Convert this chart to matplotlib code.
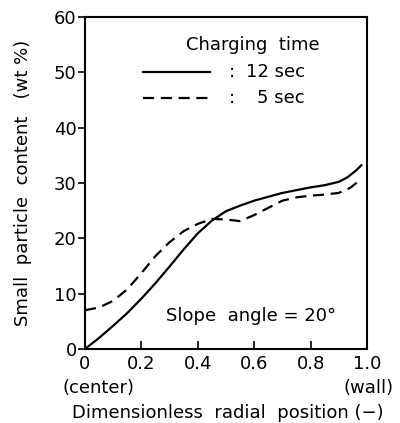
import matplotlib
matplotlib.use('Agg')
import matplotlib.pyplot as plt

# values
x_12s = [0, 0.05, 0.10, 0.15, 0.20, 0.25, 0.30, 0.35, 0.40, 0.45, 0.50,
         0.55, 0.60, 0.65, 0.70, 0.75, 0.80, 0.85, 0.90, 0.93, 0.96, 0.98]
y_12s = [0, 2.0, 4.2, 6.5, 9.1, 11.9, 14.9, 18.0, 20.9, 23.2, 24.9,
         25.9, 26.8, 27.5, 28.2, 28.7, 29.2, 29.6, 30.2, 31.0, 32.2, 33.2]

x_5s = [0, 0.05, 0.10, 0.15, 0.20, 0.25, 0.30, 0.35, 0.40, 0.45, 0.50,
        0.55, 0.60, 0.65, 0.70, 0.75, 0.80, 0.85, 0.90, 0.94, 0.965]
y_5s = [7.0, 7.5, 8.7, 10.8, 13.7, 16.8, 19.3, 21.3, 22.6, 23.5, 23.4,
        23.1, 24.2, 25.5, 26.8, 27.4, 27.7, 27.9, 28.2, 29.1, 30.1]

xticks = [0, 0.2, 0.4, 0.6, 0.8, 1.0]
xtick_labels = ["0", "0.2", "0.4", "0.6", "0.8", "1.0"]
yticks = [0, 10, 20, 30, 40, 50, 60]

plt.rcParams['font.family'] = 'DejaVu Sans'
fs = 13

fig = plt.figure(figsize=(4.0, 4.23), dpi=100)
ax = fig.add_axes([0.2125, 0.175, 0.705, 0.785])

ax.plot(x_12s, y_12s, color='black', lw=1.6, solid_joinstyle='round')
ax.plot(x_5s, y_5s, color='black', lw=1.6, dashes=(5, 3))

ax.set_xlim(0, 1.0)
ax.set_ylim(0, 60)
ax.set_xticks(xticks)
ax.set_xticklabels(xtick_labels)
ax.set_yticks(yticks)

for s in ax.spines.values():
    s.set_linewidth(1.5)

ax.tick_params(axis='x', direction='in', length=6, width=1.2, pad=4, labelsize=fs)
ax.tick_params(axis='y', direction='out', length=5, width=1.2, pad=1, labelsize=fs)

ax.set_ylabel("Small  particle  content   (wt %)", fontsize=fs, labelpad=16)

# legend drawn as text + lines like the original figure
ax.text(0.595, 0.915, "Charging  time", transform=ax.transAxes,
        ha='center', va='center', fontsize=fs)
ax.plot([0.206, 0.443], [0.834, 0.834], transform=ax.transAxes,
        color='black', lw=1.6)
ax.plot([0.206, 0.443], [0.756, 0.756], transform=ax.transAxes,
        color='black', lw=1.6, dashes=(5, 3))
ax.text(0.52, 0.834, ":", transform=ax.transAxes, ha='center', va='center', fontsize=fs)
ax.text(0.52, 0.756, ":", transform=ax.transAxes, ha='center', va='center', fontsize=fs)
ax.text(0.78, 0.834, "12 sec", transform=ax.transAxes, ha='right', va='center', fontsize=fs)
ax.text(0.78, 0.756, "5 sec", transform=ax.transAxes, ha='right', va='center', fontsize=fs)

ax.text(0.59, 0.10, "Slope  angle = 20°", transform=ax.transAxes,
        ha='center', va='center', fontsize=fs)

# axis annotations below
fig.text(0.155, 0.083, "(center)", ha='left', va='center', fontsize=fs)
fig.text(0.983, 0.083, "(wall)", ha='right', va='center', fontsize=fs)
fig.text(0.57, 0.024, "Dimensionless  radial  position (\u2212)", ha='center',
         va='center', fontsize=fs)

fig.savefig("out.png", dpi=100)
